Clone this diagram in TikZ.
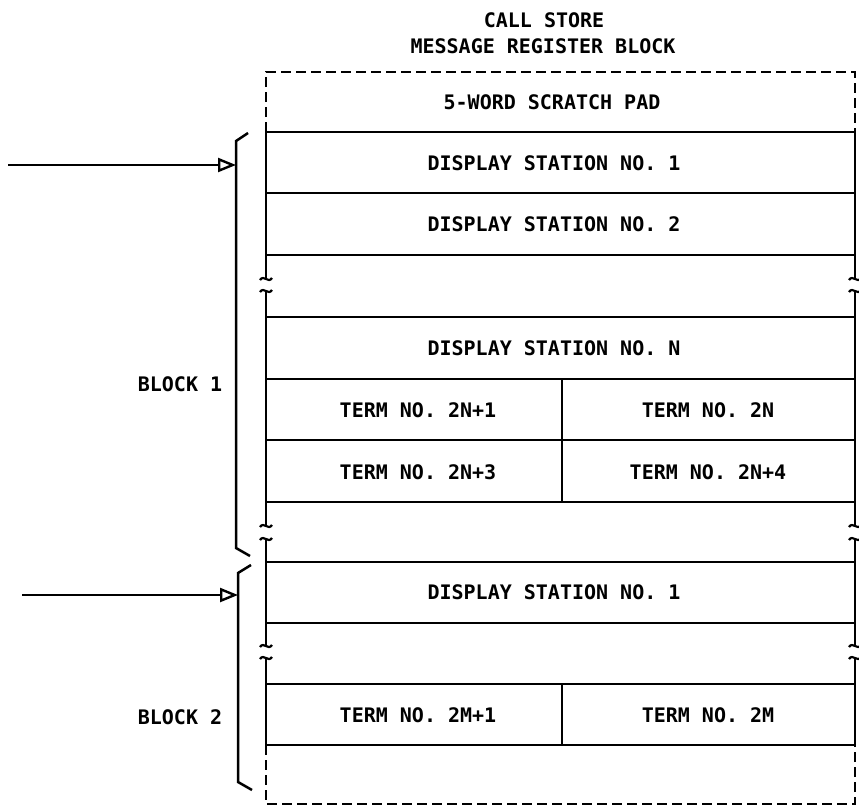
\documentclass[tikz,border=0pt]{standalone}
\usepackage{fontspec}
\setmonofont{DejaVu Sans Mono}
\usetikzlibrary{arrows.meta}

\begin{document}
\begin{tikzpicture}[x=1pt,y=-1pt,line width=2.5pt,
  lbl/.style={font=\ttfamily\bfseries\fontsize{20}{24}\selectfont,inner sep=0pt},
  dsh/.style={dash pattern=on 10pt off 5pt},
  brk/.pic={\draw[line width=2.2pt] (-6,2) .. controls (-2,-4) and (2,6) .. (6,0);},
  >={Triangle[open,length=18pt,width=14pt,line width=2.4pt]}]
  \useasboundingbox (0,0) rectangle (859,806);
  \node[lbl] (title1) at (544,20) {CALL STORE};
  \node[lbl] (title2) at (543,46) {MESSAGE REGISTER BLOCK};
  % memory block outline
  \draw[dsh] (266,132) -- (266,72) -- (855,72) -- (855,132);
  \draw[dsh] (266,745) -- (266,804) -- (855,804) -- (855,745);
  \foreach \y in {132,193,255,317,379,440,502,562,623,684,745}
    \draw (266,\y) -- (855,\y);
  \foreach \x in {266,855}{
    \draw (\x,132) -- (\x,278);
    \draw (\x,290) -- (\x,525);
    \draw (\x,538) -- (\x,645);
    \draw (\x,657) -- (\x,745);
    \foreach \y in {278,290,525,538,645,657} \pic at (\x,\y) {brk};
  }
  \draw (562,379) -- (562,502);
  \draw (562,684) -- (562,745);
  \node[lbl] (pad) at (552,102) {5-WORD SCRATCH PAD};
  \node[lbl] (ds1) at (554,163) {DISPLAY STATION NO. 1};
  \node[lbl] (ds2) at (554,224) {DISPLAY STATION NO. 2};
  \node[lbl] (dsn) at (554,348) {DISPLAY STATION NO. N};
  \node[lbl] (t1) at (418,410) {TERM NO. 2N+1};
  \node[lbl] (t2) at (708,410) {TERM NO. 2N};
  \node[lbl] (t3) at (418,472) {TERM NO. 2N+3};
  \node[lbl] (t4) at (708,472) {TERM NO. 2N+4};
  \node[lbl] (bds1) at (554,592) {DISPLAY STATION NO. 1};
  \node[lbl] (bt1) at (418,715) {TERM NO. 2M+1};
  \node[lbl] (bt2) at (708,715) {TERM NO. 2M};
  % blocks
  \draw (248,133) -- (236,141) -- (236,548) -- (250,556);
  \draw (251,565) -- (238,573) -- (238,782) -- (252,790);
  \node[lbl] (blk1) at (180,384) {BLOCK 1};
  \node[lbl] (blk2) at (180,717) {BLOCK 2};
  \coordinate (in1) at (8,165);
  \coordinate (br1) at (236,165);
  \coordinate (in2) at (22,595);
  \coordinate (br2) at (238,595);
  \foreach \a/\b in {in1/br1,in2/br2}{\draw[->] (\a) -- (\b);}
\end{tikzpicture}
\end{document}
